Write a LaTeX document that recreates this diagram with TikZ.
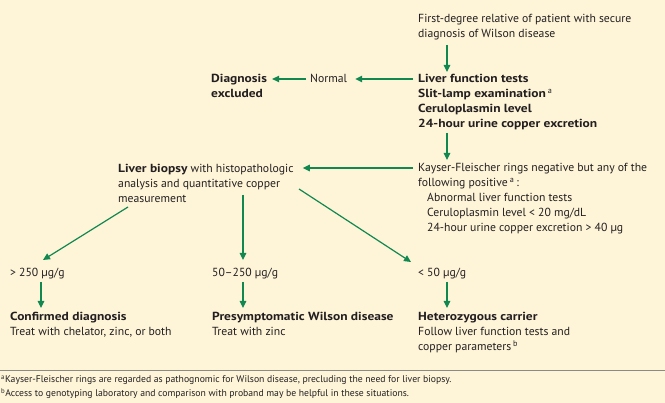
\documentclass[tikz,border=0pt]{standalone}
\usepackage{fontspec}
\setmainfont{PT Sans}[BoldFeatures={FakeStretch=1.15}]
\usetikzlibrary{arrows.meta,calc}
\definecolor{bgc}{HTML}{FEF4D8}
\definecolor{grn}{HTML}{10884F}
\definecolor{txtc}{HTML}{231F20}
\definecolor{rulec}{HTML}{8C8A84}
\begin{document}
\begin{tikzpicture}[x=1pt,y=-1pt,
  txt/.style={anchor=base west, inner sep=0pt, align=left, font=\fontsize{11.7}{15}\selectfont, text=txtc},
  txtb/.style={txt, font=\fontsize{11.7}{15}\selectfont\bfseries},
  arr/.style={draw=grn, line width=1.2pt, -{Triangle[length=7pt,width=6.5pt]}},
  fn/.style={anchor=base west, inner sep=0pt, font=\fontsize{9.7}{14}\selectfont, text=txtc}]
\fill[bgc] (0,0) rectangle (665,403);
\useasboundingbox (0,0) rectangle (665,403);

% base anchors are at the baseline of the LAST line of each node
\node[txt] (fdr) at (418,38) {First-degree relative of patient with secure\\diagnosis of Wilson disease};
\node[txtb] (lft) at (418,128) {Liver function tests\\Slit-lamp examination\,\textsuperscript{\mdseries a}\\Ceruloplasmin level\\24-hour urine copper excretion};
\node[txt] (nor) at (310,83) {Normal};
\node[txtb] (dex) at (211,98) {Diagnosis\\excluded};
\node[txt] (kf) at (418,232) {Kayser-Fleischer rings negative but any of the\\following positive\,\textsuperscript{a}\,:\\\hspace*{9pt}Abnormal liver function tests\\\hspace*{9pt}Ceruloplasmin level < 20 mg/dL\\\hspace*{9pt}24-hour urine copper excretion > 40 µg};
\node[txt] (bio) at (118,203) {\textbf{Liver biopsy} with histopathologic\\analysis and quantitative copper\\measurement};
\node[txt] (v1) at (10,277) {> 250 µg/g};
\node[txt] (v2) at (212,277) {50–250 µg/g};
\node[txt] (v3) at (418,277) {< 50 µg/g};
\node[txt] (r1) at (10,336) {\textbf{Confirmed diagnosis}\\Treat with chelator, zinc, or both};
\node[txt] (r2) at (212,336) {\textbf{Presymptomatic Wilson disease}\\Treat with zinc};
\node[txt] (r3) at (418,351) {\textbf{Heterozygous carrier}\\Follow liver function tests and\\copper parameters\,\textsuperscript{b}};

\draw[arr] ($(fdr.base west)+(29,7)$) -- ($(lft.base west)+(29,-56)$);
\draw[arr] ($(lft.base west)+(-5,-49)$) -- ($(nor.base east)+(8,-4)$);
\draw[arr] ($(nor.base west)+(-4,-4)$) -- ($(dex.base east)+(5,-19)$);
\draw[arr] ($(lft.base west)+(29,5)$) -- ($(kf.base west)+(29,-72)$);
\draw[arr] ($(kf.base west)+(-5,-64)$) -- ($(bio.base east)+(9,-35)$);
\draw[arr] ($(bio.base west)+(10,4)$) -- ($(v1.base west)+(33,-17)$);
\draw[arr] ($(bio.base west)+(125,-8)$) -- ($(v2.base west)+(31,-17)$);
\draw[arr] ($(bio.base west)+(181,-14)$) -- ($(v3.base west)+(-7,-15)$);
\draw[arr] ($(v1.base west)+(31,5)$) -- ($(r1.base west)+(31,-28)$);
\draw[arr] ($(v2.base west)+(31,5)$) -- ($(r2.base west)+(31,-28)$);
\draw[arr] ($(v3.base west)+(29,5)$) -- ($(r3.base west)+(29,-43)$);

\draw[rulec, line width=0.8pt] (0,370) -- (665,370);
\node[fn] (fa) at (1,383) {\textsuperscript{a}Kayser-Fleischer rings are regarded as pathognomic for Wilson disease, precluding the need for liver biopsy.};
\node[fn] (fb) at (1,397) {\textsuperscript{b}Access to genotyping laboratory and comparison with proband may be helpful in these situations.};
\end{tikzpicture}
\end{document}
